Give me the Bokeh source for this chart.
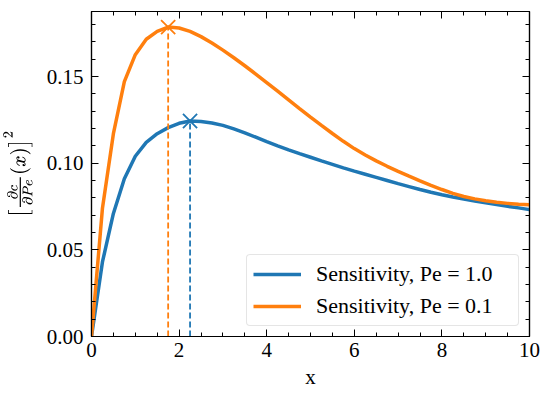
import numpy as np
from bokeh.plotting import figure
from bokeh.models import (LinearAxis, Range1d, FixedTicker, Legend, LegendItem,
                          CustomLabelingPolicy)
from bokeh.embed import file_html
from bokeh.resources import INLINE

# ---- data ----
x = [0.0, 0.25, 0.5, 0.75, 1.0, 1.25, 1.5, 1.75, 2.0, 2.25, 2.5, 2.75, 3.0, 3.25, 3.5,
     3.75, 4.0, 4.25, 4.5, 4.75, 5.0, 5.25, 5.5, 5.75, 6.0, 6.25, 6.5, 6.75, 7.0, 7.25,
     7.5, 7.75, 8.0, 8.25, 8.5, 8.75, 9.0, 9.25, 9.5, 9.75, 10.0]
sens_pe_1 = [0.000, 0.043, 0.071, 0.091, 0.104, 0.112, 0.117, 0.1205, 0.1230, 0.1243,
             0.1240, 0.1232, 0.1218, 0.1198, 0.1175, 0.1150, 0.1124, 0.1100, 0.1077,
             0.1055, 0.1034, 0.1013, 0.0993, 0.0973, 0.0954, 0.0936, 0.0918, 0.0900,
             0.0882, 0.0865, 0.0848, 0.0832, 0.0818, 0.0805, 0.0793, 0.0782, 0.0771,
             0.0761, 0.0751, 0.0742, 0.0732]
sens_pe_01 = [0.000, 0.074, 0.117, 0.147, 0.1626, 0.1715, 0.1760, 0.1785, 0.1780, 0.1760,
              0.1730, 0.1693, 0.1652, 0.1608, 0.1562, 0.1514, 0.1465, 0.1415, 0.1365,
              0.1315, 0.1266, 0.1218, 0.1171, 0.1126, 0.1084, 0.1047, 0.1013, 0.0982,
              0.0953, 0.0925, 0.0898, 0.0872, 0.0848, 0.0826, 0.0808, 0.0794, 0.0783,
              0.0775, 0.0768, 0.0763, 0.0760]
labels = ["Sensitivity, Pe = 1.0", "Sensitivity, Pe = 0.1"]
colors = ["#1f77b4", "#ff7f0e"]
x_ticks = [0, 2, 4, 6, 8, 10]
y_ticks = [0.0, 0.05, 0.10, 0.15]

FONT = "Liberation Serif"

p = figure(frame_width=438, frame_height=325, output_backend="svg", toolbar_location=None,
           x_range=Range1d(0, 10), y_range=Range1d(0, 0.1875),
           min_border_left=83, min_border_right=10, min_border_top=0, min_border_bottom=40)
p.grid.visible = False
p.outline_line_color = "black"
p.outline_line_width = 1.2
p.background_fill_color = "white"
p.border_fill_color = "white"

xt = FixedTicker(ticks=x_ticks, minor_ticks=list(np.arange(0, 10.01, 0.5)))
yt = FixedTicker(ticks=y_ticks, minor_ticks=list(np.arange(0, 0.19, 0.01)))

p.xaxis.ticker = xt
p.yaxis.ticker = yt
p.xaxis.major_label_overrides = {t: f"{t:g}" for t in x_ticks}
p.yaxis.major_label_overrides = {t: f"{t:.2f}" for t in y_ticks}

for ax in (p.xaxis[0], p.yaxis[0]):
    ax.major_tick_in = 7
    ax.major_tick_out = 0
    ax.minor_tick_in = 4
    ax.minor_tick_out = 0
    ax.axis_line_color = "black"
    ax.axis_line_width = 1.2
    ax.major_tick_line_color = "black"
    ax.minor_tick_line_color = "black"
    ax.major_label_text_font = FONT
    ax.major_label_text_font_size = "21px"
    ax.major_label_text_color = "black"
    ax.axis_label_text_font = FONT
    ax.axis_label_text_font_style = "normal"
    ax.axis_label_text_color = "black"

p.xaxis.major_label_standoff = 6
p.yaxis.major_label_standoff = 8
p.xaxis.axis_label = "x"
p.xaxis.axis_label_text_font_size = "21px"
p.xaxis.axis_label_standoff = 5
p.yaxis.axis_label = r"$$\left[\tfrac{\partial c}{\partial Pe}(x)\right]^2$$"
p.yaxis.axis_label_text_font_size = "18px"
p.yaxis.axis_label_standoff = 11

no_labels = CustomLabelingPolicy(code="return new Set()")
for loc, tk in (("above", xt), ("right", yt)):
    ax = LinearAxis(ticker=tk, major_label_policy=no_labels, major_label_standoff=0,
                    major_tick_in=7, major_tick_out=0, minor_tick_in=4, minor_tick_out=0,
                    axis_line_color="black", axis_line_width=1.2)
    p.add_layout(ax, loc)

# curves
renderers = []
for ys, c in zip([sens_pe_1, sens_pe_01], colors):
    r = p.line(x, ys, line_color=c, line_width=3.5)
    renderers.append(r)

# peaks: dashed drop lines and x markers
for ys, c in zip([sens_pe_1, sens_pe_01], colors):
    i = int(np.argmax(ys))
    p.segment(x0=[x[i]], y0=[0], x1=[x[i]], y1=[ys[i]], line_color=c, line_width=1.8,
              line_dash="6 3")
    p.scatter([x[i]], [ys[i]], marker="x", size=20, line_color=c, line_width=1.8)

legend = Legend(items=[LegendItem(label=l, renderers=[r]) for l, r in zip(labels, renderers)],
                location="bottom_right")
legend.label_text_font = FONT
legend.label_text_font_size = "22px"
legend.label_text_color = "black"
legend.glyph_width = 48
legend.glyph_height = 24
legend.label_height = 24
legend.label_width = 196
legend.label_standoff = 15
legend.spacing = 6
legend.padding = 6
legend.margin = 10
legend.border_line_color = "#cccccc"
legend.border_line_width = 1.2
legend.border_radius = 4
legend.background_fill_alpha = 0.85
p.add_layout(legend)

open("out.html", "w").write(file_html(p, INLINE))
